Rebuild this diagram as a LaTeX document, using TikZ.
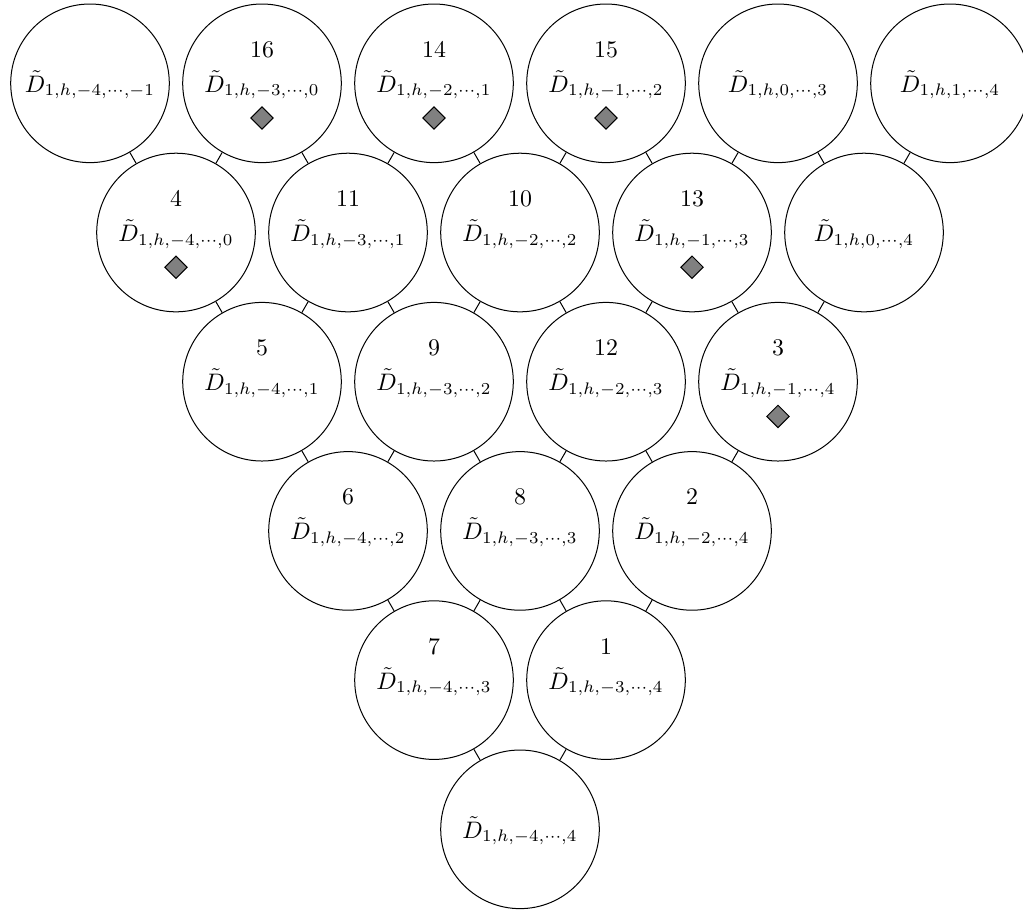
\documentclass[tikz,border=0pt]{standalone}
\usetikzlibrary{shapes.geometric}
\begin{document}
\begin{tikzpicture}[x=0.4485pt,y=-0.4485pt,
  circ/.style={circle,draw,line width=0.45pt,scale=1.07,minimum size=66.48pt,inner sep=0pt,
    text height=9.35pt,text depth=1.78pt},
  numlab/.style={anchor=base,inner sep=0pt,scale=1.07},
  diamark/.style={diamond,draw,fill=gray,line width=0.45pt,minimum size=10.2pt,inner sep=0pt},
  conn/.style={line width=0.45pt}]
\useasboundingbox (0,0) rectangle (1023,912);
\foreach \r/\c/\num/\dia in {
  0/0/0/0, 0/1/16/1, 0/2/14/1, 0/3/15/1, 0/4/0/0, 0/5/0/0,
  1/0/4/1, 1/1/11/0, 1/2/10/0, 1/3/13/1, 1/4/0/0,
  2/0/5/0, 2/1/9/0, 2/2/12/0, 2/3/3/1,
  3/0/6/0, 3/1/8/0, 3/2/2/0,
  4/0/7/0, 4/1/1/0,
  5/0/0/0}{
  \pgfmathsetmacro\x{90+86*\r+172*\c}
  \pgfmathsetmacro\y{83.3+149.2*\r}
  \pgfmathtruncatemacro\a{-4+\c}
  \pgfmathtruncatemacro\b{-1+\r+\c}
  \node[circ] (n\r\c) at (\x,\y) {$\tilde{D}_{1,h,\a,\cdots,\b}$};
  \ifnum\num>0
    \node[numlab] (k\r\c) at (\x,\y-26) {\num};
  \fi
  \ifnum\dia=1
    \node[diamark] (m\r\c) at (\x,\y+34.7) {};
  \fi
}
\foreach \r in {0,...,4}{
  \pgfmathtruncatemacro\cmax{4-\r}
  \pgfmathtruncatemacro\rn{\r+1}
  \foreach \c in {0,...,\cmax}{
    \pgfmathtruncatemacro\cn{\c+1}
    \draw[conn] (n\r\c) -- (n\rn\c);
    \draw[conn] (n\r\cn) -- (n\rn\c);
  }
}
\end{tikzpicture}
\end{document}
